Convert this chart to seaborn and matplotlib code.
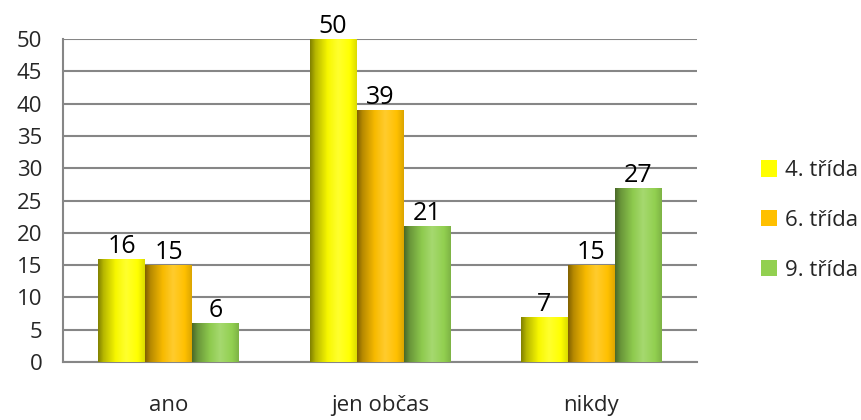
import numpy as np
import pandas as pd
import matplotlib
matplotlib.use("Agg")
import matplotlib.pyplot as plt
from matplotlib.colors import to_rgb, LinearSegmentedColormap
from matplotlib.patches import Patch
import seaborn as sns

# data
categories = ["ano", "jen občas", "nikdy"]
series = ["4. třída", "6. třída", "9. třída"]
values_4 = [16, 50, 7]
values_6 = [15, 39, 15]
values_9 = [6, 21, 27]
colors = ["#ffff00", "#ffc000", "#92d050"]

df = pd.DataFrame({
    "kategorie": categories * 3,
    "trida": [s for s in series for _ in categories],
    "pocet": values_4 + values_6 + values_9,
})

sns.set_style("white")
plt.rcParams["font.family"] = ["Open Sans", "DejaVu Sans"]

fig = plt.figure(figsize=(8.62, 4.2), dpi=100)
ax = fig.add_axes([0.0731, 0.138, 0.7355, 0.769])

sns.barplot(data=df, x="kategorie", y="pocet", hue="trida", order=categories,
            hue_order=series, palette=colors, width=0.667, gap=0,
            saturation=1, legend=False, ax=ax, linewidth=0, zorder=3)


def shade_cmap(base):
    # cylinder-like shading similar to old Excel bars
    b = np.array(to_rgb(base))
    white = np.ones(3)
    stops = [
        (0.0, b * 0.5),
        (0.12, b * 0.72),
        (0.38, b * 0.97),
        (0.6, b + (white - b) * 0.18),
        (0.85, b),
        (1.0, b * 0.86),
    ]
    return LinearSegmentedColormap.from_list("s", [(p, tuple(np.clip(c, 0, 1))) for p, c in stops])


grad = np.linspace(0, 1, 256).reshape(1, -1)
for cont, col in zip(ax.containers, colors):
    cmap = shade_cmap(col)
    for bar in cont:
        x, y = bar.get_x(), bar.get_y()
        w, h = bar.get_width(), bar.get_height()
        if h <= 0:
            continue
        im = ax.imshow(grad, cmap=cmap, aspect="auto", extent=[x, x + w, y, y + h],
                       zorder=3.5, interpolation="bilinear")
        im.set_clip_path(bar)
    ax.bar_label(cont, fontsize=18, padding=0, color="black", zorder=5)

ax.set_xlim(-0.5, 2.5)
ax.set_ylim(0, 50)
ax.set_yticks(range(0, 51, 5))
ax.yaxis.grid(True, color="#868686", linewidth=1.5, zorder=0)
ax.set_axisbelow(True)

ax.set_xticks([0, 1, 2])
ax.set_xticklabels(categories)
ax.set_xticks([-0.5, 0.5, 1.5, 2.5], minor=True)
ax.tick_params(axis="x", which="major", length=0, pad=24, labelsize=16)
ax.tick_params(axis="x", which="minor", length=8, width=1.5, color="#868686", direction="out")
ax.tick_params(axis="y", length=8, width=1.5, color="#868686", direction="out",
               labelsize=16, pad=7)
ax.set_xlabel("")
ax.set_ylabel("")

for side in ["top", "right"]:
    ax.spines[side].set_visible(False)
for side in ["left", "bottom"]:
    ax.spines[side].set_color("#868686")
    ax.spines[side].set_linewidth(1.5)

handles = [Patch(facecolor=c, edgecolor="none") for c in colors]
fig.legend(handles, series, loc="center left", bbox_to_anchor=(0.872, 0.475),
           frameon=False, fontsize=16, handlelength=0.75, handleheight=0.75,
           handletextpad=0.35, labelspacing=1.3, borderaxespad=0)

fig.savefig("out.png", dpi=100)
